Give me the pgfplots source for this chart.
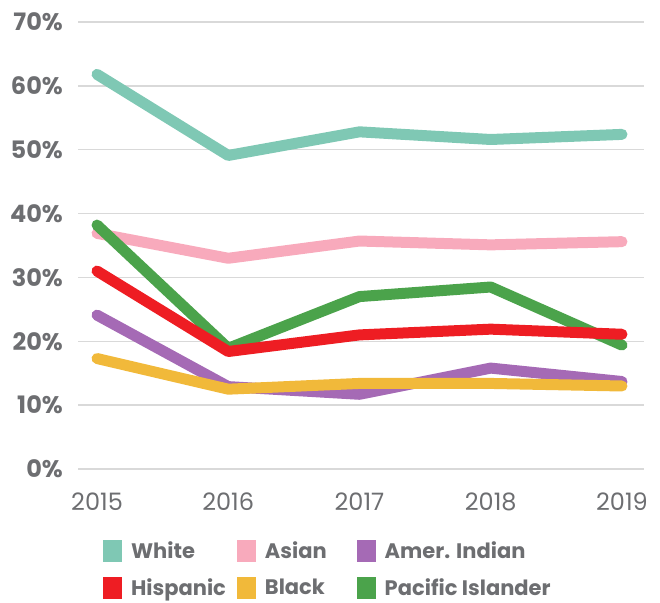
\documentclass[border=0pt]{standalone}
\usepackage{fontspec}
\setmainfont{Poppins}
\usepackage{pgfplots}
\pgfplotsset{compat=1.18}
\definecolor{cwhite}{HTML}{7FC8B4}
\definecolor{casian}{HTML}{F8AABC}
\definecolor{cindian}{HTML}{A56AB5}
\definecolor{chisp}{HTML}{EE1D23}
\definecolor{cblack}{HTML}{F1B93A}
\definecolor{cpacific}{HTML}{4BA34B}
\definecolor{txtgray}{HTML}{6D6E71}
\definecolor{gridgray}{HTML}{D9D9D9}

\begin{document}
\begin{tikzpicture}
\useasboundingbox (0,0) rectangle (660pt,602pt);
\begin{axis}[
    at={(78pt,133pt)}, anchor=south west,
    scale only axis,
    width=566pt, height=447pt,
    xmin=2014.855, xmax=2019.168,
    ymin=0, ymax=70,
    xtick={2015,2016,2017,2018,2019},
    xticklabels={2015,2016,2017,2018,2019},
    ytick={0,10,...,70},
    yticklabels={0\%,10\%,20\%,30\%,40\%,50\%,60\%,70\%},
    /pgf/number format/assume math mode=true,
    axis line style={draw=none},
    major tick length=0pt,
    ymajorgrids,
    grid style={gridgray, line width=1.3pt},
    yticklabel style={font=\bfseries\fontsize{24}{28}\selectfont, text=txtgray, anchor=east, inner sep=0pt, xshift=-15pt},
    xticklabel style={font=\fontsize{24}{28}\selectfont, text=txtgray, anchor=north, inner sep=0pt, yshift=-24pt},
    clip=false,
    every axis plot/.append style={line width=11pt, line cap=round, line join=round},
    legend columns=3,
    legend cell align=left,
    legend style={at={(axis description cs:0.044,-0.158)}, anchor=north west, draw=none, fill=none, inner sep=0pt,
        font=\bfseries\fontsize{21}{25}\selectfont, text=txtgray,
        nodes={inner sep=0pt},
        /tikz/column 2/.style={column sep=11pt},
        /tikz/column 4/.style={column sep=30pt},
        /tikz/column 1/.style={column sep=9pt},
        /tikz/column 3/.style={column sep=9pt},
        /tikz/column 5/.style={column sep=9pt},
        row sep=15pt},
    legend image code/.code={\fill[#1, draw=none, line width=0pt] (0pt,-11pt) rectangle (19pt,11pt);},
]
% white
\addplot[cwhite, forget plot] coordinates {(2015,61.8) (2016,49.1) (2017,52.8) (2018,51.6) (2019,52.4)};
% asian
\addplot[casian, forget plot] coordinates {(2015,36.9) (2016,33.0) (2017,35.7) (2018,35.1) (2019,35.6)};
% pacific islander
\addplot[cpacific, forget plot] coordinates {(2015,38.2) (2016,18.9) (2017,27.0) (2018,28.5) (2019,19.4)};
% hispanic
\addplot[chisp, forget plot] coordinates {(2015,31.0) (2016,18.4) (2017,21.0) (2018,21.9) (2019,21.1)};
% amer. indian
\addplot[cindian, forget plot] coordinates {(2015,24.1) (2016,12.9) (2017,11.7) (2018,15.8) (2019,13.7)};
% black
\addplot[cblack, forget plot] coordinates {(2015,17.3) (2016,12.5) (2017,13.4) (2018,13.4) (2019,13.0)};

\addlegendimage{cwhite}\addlegendentry{White}
\addlegendimage{casian}\addlegendentry{Asian}
\addlegendimage{cindian}\addlegendentry{Amer. Indian}
\addlegendimage{chisp}\addlegendentry{Hispanic}
\addlegendimage{cblack}\addlegendentry{Black}
\addlegendimage{cpacific}\addlegendentry{Pacific Islander}
\end{axis}
\end{tikzpicture}
\end{document}
